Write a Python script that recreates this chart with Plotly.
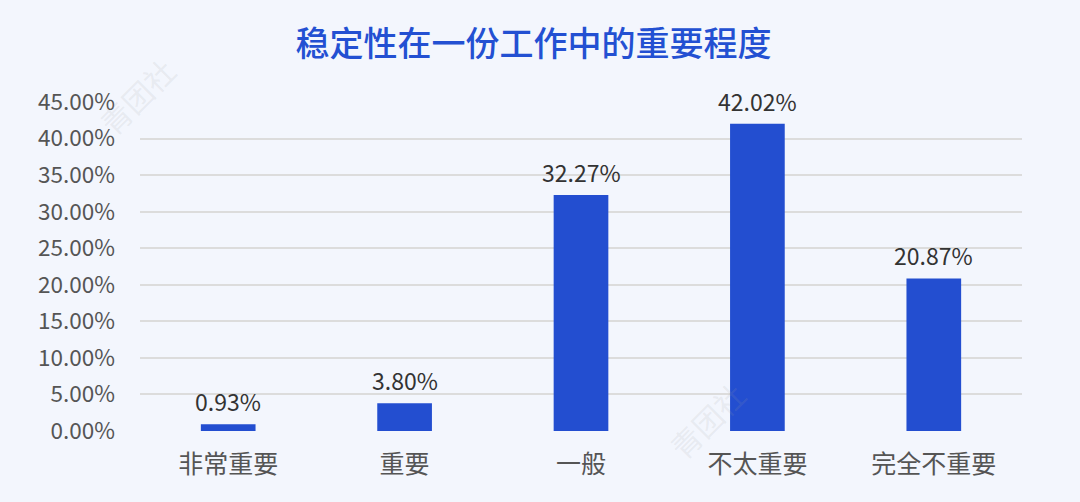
import plotly.graph_objects as go

categories = ["非常重要", "重要", "一般", "不太重要", "完全不重要"]
values = [0.93, 3.80, 32.27, 42.02, 20.87]
tick_vals = [0, 5, 10, 15, 20, 25, 30, 35, 40, 45]
tick_text = [f"{v:.2f}%" for v in tick_vals]
title_text = "稳定性在一份工作中的重要程度"

FONT = "Noto Sans CJK SC, Noto Sans, sans-serif"
BG = "#f3f6fd"
BAR = "#234ed0"

fig = go.Figure(
    go.Bar(
        x=categories,
        y=values,
        marker=dict(color=BAR, line=dict(width=0)),
        width=0.31,
        hoverinfo="x+y",
    )
)

for c, v in zip(categories, values):
    fig.add_annotation(
        x=c, y=v, xref="x", yref="y", text=f"{v:.2f}%",
        showarrow=False, yanchor="bottom", yshift=4,
        font=dict(size=23, color="#333333", family=FONT),
    )

fig.update_layout(
    width=1080,
    height=502,
    paper_bgcolor=BG,
    plot_bgcolor=BG,
    margin=dict(l=140, r=58, t=102, b=71),
    title=dict(
        text=title_text,
        x=0.494,
        xanchor="center",
        y=0.912,
        yanchor="middle",
        font=dict(size=34, color="#2350d2", family=FONT, weight=500),
    ),
    font=dict(family=FONT),
    showlegend=False,
    xaxis=dict(
        showgrid=False,
        showline=False,
        tickfont=dict(size=25, color="#555555", family=FONT),
        ticklabelstandoff=16,
    ),
    yaxis=dict(
        range=[0, 45],
        tickvals=tick_vals,
        ticktext=tick_text,
        showgrid=True,
        gridcolor="#dcdcdc",
        gridwidth=1.5,
        zeroline=False,
        showline=False,
        tickfont=dict(size=22.5, color="#555555", family=FONT),
        ticklabelstandoff=24,
    ),
)

fig.add_annotation(
    x=-0.06, y=1.17, xref="paper", yref="paper", text="青团社",
    showarrow=False, textangle=-45,
    font=dict(size=30, color="rgba(160,160,160,0.15)", family=FONT),
)
fig.add_annotation(
    x=0.70, y=-0.12, xref="paper", yref="paper", text="青团社",
    showarrow=False, textangle=-45,
    font=dict(size=30, color="rgba(160,160,160,0.15)", family=FONT),
)

fig.write_html(
    "out.html",
    config={"displayModeBar": False},
    post_script="document.body.style.margin='0';document.body.style.background='#f3f6fd';",
)
